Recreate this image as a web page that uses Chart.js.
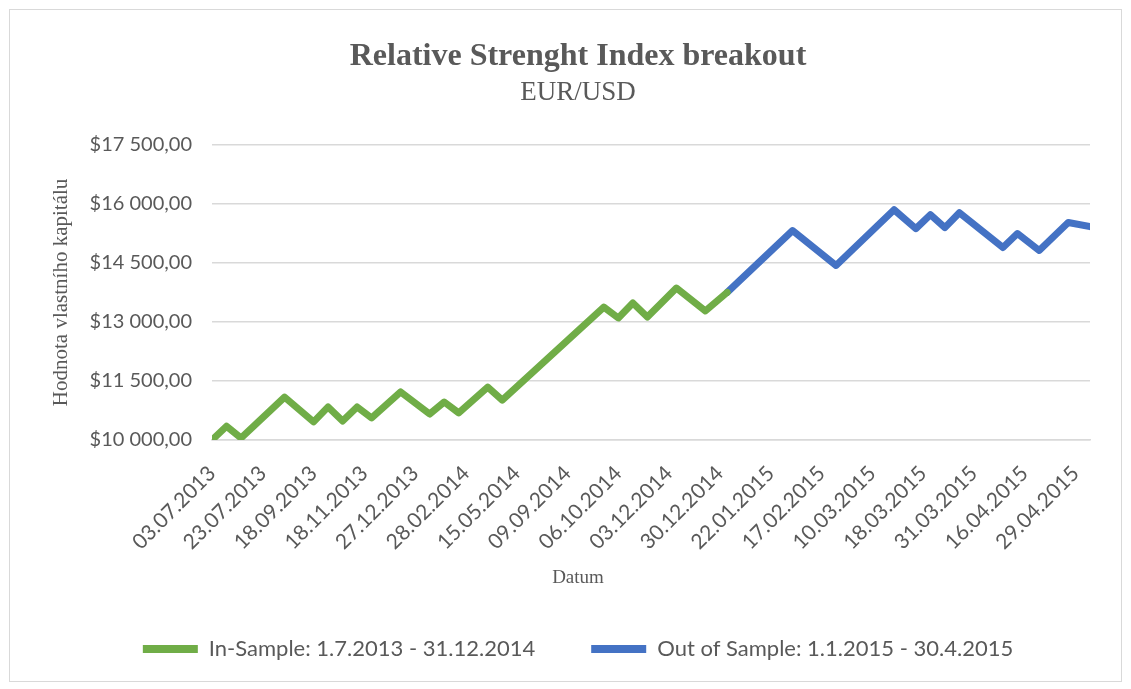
<!DOCTYPE html>
<html>
<head>
<meta charset="utf-8">
<script src="https://cdn.jsdelivr.net/npm/chart.js@4.4.1/dist/chart.umd.min.js"></script>
<style>
  html, body { margin: 0; padding: 0; background: #fff; }
  #wrap { position: relative; width: 1131px; height: 689px; }
  #frame { position: absolute; left: 9px; top: 9px; width: 1111px; height: 671px; border: 1px solid #d9d9d9; }
  canvas { position: absolute; left: 0; top: 0; }
</style>
</head>
<body>
<div id="wrap">
  <div id="frame"></div>
  <canvas id="rsi" width="1131" height="689"></canvas>
</div>
<script>
// ─── Data (trade index -> equity) ────────────────────────────────────────────

const tickLabels = [
  '03.07.2013', '23.07.2013', '18.09.2013', '18.11.2013', '27.12.2013', '28.02.2014',
  '15.05.2014', '09.09.2014', '06.10.2014', '03.12.2014', '30.12.2014', '22.01.2015',
  '17.02.2015', '10.03.2015', '18.03.2015', '31.03.2015', '16.04.2015', '29.04.2015'
];
const TICK_EVERY = 7;   // one date label every 7 trades
const LAST_TRADE = 121;

const inSampleIdx = [0, 2, 4, 10, 14, 16, 18, 20, 22, 26, 30, 32, 34, 38, 40, 54, 56, 58, 60, 64, 68, 71];
const inSampleVal = [10000, 10350, 10050, 11090, 10460, 10840, 10480, 10840, 10560, 11220, 10660,
                     10965, 10690, 11345, 11015, 13375, 13100, 13480, 13125, 13860, 13280, 13750];

const outSampleIdx = [71, 80, 86, 94, 97, 99, 101, 103, 109, 111, 114, 118, 121];
const outSampleVal = [13750, 15320, 14435, 15850, 15370, 15725, 15395, 15775, 14890, 15245, 14815, 15525, 15420];

const GREEN = '#70ad47';
const BLUE  = '#4472c4';
const TEXT  = '#595959';
const GRID  = '#d9d9d9';
const SANS  = "Lato, 'Open Sans', sans-serif";
const SERIF = "'Liberation Serif', 'DejaVu Serif', serif";

const toPoints = (xs, ys) => xs.map((x, i) => ({ x, y: ys[i] }));

function money(v) {
  return '$' + String(v).replace(/\B(?=(\d{3})+(?!\d))/g, ' ') + ',00';
}

// x-axis title drawn centred under the whole chart, like the original
const datumTitle = {
  id: 'datumTitle',
  afterDraw(chart) {
    const { ctx, legend, scales } = chart;
    ctx.save();
    ctx.font = '19px ' + SERIF;
    ctx.fillStyle = TEXT;
    ctx.textAlign = 'center';
    ctx.textBaseline = 'middle';
    ctx.fillText('Datum', (legend.left + legend.right) / 2, scales.x.top + 138);
    ctx.restore();
  }
};

new Chart(document.getElementById('rsi'), {
  type: 'line',
  data: {
    datasets: [
      {
        label: 'In-Sample: 1.7.2013 - 31.12.2014',
        data: toPoints(inSampleIdx, inSampleVal),
        borderColor: GREEN, backgroundColor: GREEN,
      },
      {
        label: 'Out of Sample: 1.1.2015 - 30.4.2015',
        data: toPoints(outSampleIdx, outSampleVal),
        borderColor: BLUE, backgroundColor: BLUE,
      },
    ].map(d => ({
      ...d,
      borderWidth: 7,
      borderCapStyle: 'round',
      borderJoinStyle: 'round',
      pointRadius: 0,
      tension: 0,
      fill: false,
    })),
  },
  plugins: [datumTitle],
  options: {
    responsive: false,
    animation: false,
    layout: { padding: { left: 25, right: 0, top: 0, bottom: 19 } },
    plugins: {
      title: {
        display: true,
        text: 'Relative Strenght Index breakout',
        color: TEXT,
        font: { family: SERIF, size: 32, weight: 'bold' },
        padding: { top: 38, bottom: 0 },
      },
      subtitle: {
        display: true,
        text: 'EUR/USD',
        color: TEXT,
        font: { family: SERIF, size: 27 },
        padding: { top: 0, bottom: 36 },
      },
      legend: {
        position: 'bottom',
        labels: {
          color: TEXT,
          font: { family: SANS, size: 22 },
          boxWidth: 55,
          boxHeight: 8,
          useBorderRadius: true,
          borderRadius: 4,
          padding: 56,
          generateLabels: chart => chart.data.datasets.map((d, i) => ({
            text: d.label,
            fillStyle: d.borderColor,
            strokeStyle: d.borderColor,
            lineWidth: 0,
            fontColor: TEXT,
            hidden: false,
            datasetIndex: i,
          })),
        },
      },
      tooltip: { enabled: false },
    },
    scales: {
      x: {
        type: 'linear',
        min: 0,
        max: LAST_TRADE,
        grid: { display: false },
        border: { display: true, color: GRID, width: 1.5 },
        afterBuildTicks: s => { s.ticks = tickLabels.map((_, i) => ({ value: i * TICK_EVERY })); },
        afterFit: s => { s.height = 142; },
        ticks: {
          color: TEXT,
          font: { family: SANS, size: 21 },
          minRotation: 45,
          maxRotation: 45,
          autoSkip: false,
          padding: 13,
          callback: v => tickLabels[Math.round(v / TICK_EVERY)],
        },
      },
      y: {
        min: 10000,
        max: 17500,
        afterFit: s => { s.width = 187; },
        grid: { color: GRID, lineWidth: 1.5, drawTicks: false },
        border: { display: false },
        ticks: {
          stepSize: 1500,
          color: TEXT,
          font: { family: SANS, size: 20 },
          padding: 20,
          callback: v => money(v),
        },
        title: {
          display: true,
          text: 'Hodnota vlastního kapitálu',
          color: TEXT,
          font: { family: SERIF, size: 21 },
          padding: { top: 24, bottom: 0 },
        },
      },
      yr: {
        position: 'right',
        grid: { display: false },
        border: { display: false },
        ticks: { display: false },
        afterFit: s => { s.width = 41; },
      },
    },
  },
});
</script>
</body>
</html>
